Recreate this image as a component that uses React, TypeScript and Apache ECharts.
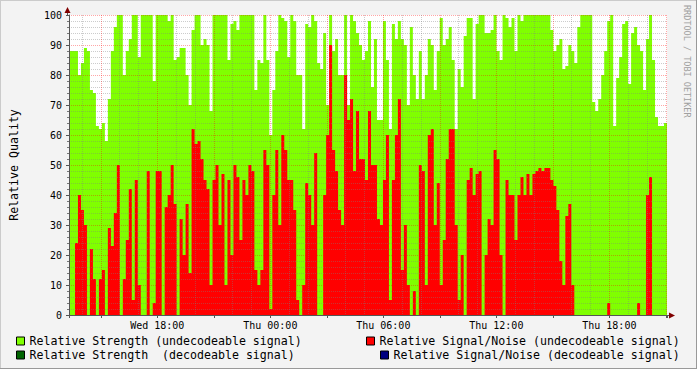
import React, { useEffect, useRef } from "react";
import * as echarts from "echarts";

// Hours since Wed 00:00
const START_H = 13.312;
const STEP_H = 31.75 / 200;

const strengthUndecodeable = [
  88, 88, 88, 80, 84, 89, 88, 75, 74, 63, 62, 64, 58, 72, 88, 96, 100, 100, 80, 88,
  92, 100, 100, 86, 100, 100, 100, 100, 78, 100, 100, 100, 100, 98, 100, 85, 86, 89, 89, 80,
  70, 95, 100, 100, 90, 92, 90, 68, 100, 100, 100, 100, 100, 85, 97, 98, 95, 100, 100, 100,
  100, 100, 75, 85, 84, 100, 85, 60, 75, 88, 100, 99, 98, 86, 100, 98, 80, 80, 62, 97,
  96, 100, 98, 84, 82, 94, 70, 100, 88, 92, 80, 80, 100, 70, 100, 98, 94, 90, 85, 88,
  98, 76, 92, 65, 65, 98, 85, 62, 97, 92, 98, 92, 90, 70, 96, 80, 72, 88, 72, 80,
  92, 90, 75, 88, 99, 90, 92, 96, 85, 62, 82, 76, 93, 99, 99, 72, 97, 100, 100, 94,
  94, 95, 100, 88, 85, 100, 99, 96, 99, 88, 100, 98, 100, 100, 100, 100, 100, 100, 100, 100,
  100, 95, 88, 90, 92, 82, 83, 90, 88, 84, 96, 100, 100, 100, 100, 71, 68, 72, 80, 88,
  98, 100, 63, 79, 86, 97, 98, 77, 94, 96, 90, 88, 75, 92, 100, 85, 66, 63, 63, 64,
];

const snrUndecodeable = [
  0, 0, 24, 40, 35, 30, 0, 22, 12, 0, 12, 15, 0, 29, 23, 34, 50, 0, 12, 25,
  42, 5, 45, 10, 0, 0, 48, 0, 4, 48, 48, 0, 36, 40, 50, 37, 0, 32, 20, 37,
  14, 62, 57, 58, 52, 45, 42, 10, 45, 50, 30, 47, 10, 45, 20, 50, 46, 25, 45, 40,
  50, 48, 15, 10, 15, 55, 50, 2, 40, 55, 30, 60, 55, 45, 45, 35, 5, 0, 10, 44,
  40, 30, 54, 0, 0, 40, 60, 90, 55, 48, 35, 30, 80, 65, 72, 48, 68, 52, 52, 45,
  68, 50, 50, 32, 30, 45, 60, 5, 45, 60, 72, 15, 30, 10, 0, 8, 0, 50, 48, 10,
  60, 62, 30, 44, 10, 25, 52, 62, 62, 30, 5, 20, 0, 45, 49, 40, 47, 48, 0, 20,
  32, 30, 55, 52, 20, 0, 45, 40, 40, 25, 40, 46, 40, 47, 40, 47, 48, 49, 48, 49,
  49, 45, 43, 35, 18, 10, 33, 37, 10, 0, 0, 0, 0, 0, 0, 0, 0, 0, 0, 0,
  4, 0, 0, 0, 0, 0, 0, 0, 0, 0, 4, 0, 0, 40, 46, 0, 0, 0, 0, 0,
];

const strengthDecodeable: number[] = [];
const snrDecodeable: number[] = [];

const NAMES = [
  "Relative Strength (undecodeable signal)",
  "Relative Signal/Noise (undecodeable signal)",
  "Relative Strength  (decodeable signal)",
  "Relative Signal/Noise (decodeable signal)",
];
const COLORS = ["#80ff00", "#ff0000", "#006400", "#000080"];
const DAYS = ["Wed", "Thu", "Fri"];
const MONO = "DejaVu Sans Mono";

function toPoints(vals: number[]) {
  if (!vals.length) return [];
  const pts: [number, number][] = vals.map((v, i) => [START_H + i * STEP_H, v]);
  pts.push([START_H + vals.length * STEP_H, vals[vals.length - 1]]);
  return pts;
}

function areaSeries(name: string, color: string, vals: number[], z: number) {
  return {
    type: "line",
    name,
    data: toPoints(vals),
    step: "end",
    symbol: "none",
    showSymbol: false,
    silent: true,
    z,
    color,
    itemStyle: { color },
    lineStyle: { width: 0, color },
    areaStyle: { color, opacity: 1 },
    emphasis: { disabled: true },
  };
}

export default function App() {
  const ref = useRef<HTMLDivElement>(null);
  useEffect(() => {
    if (!ref.current) return;
    const chart = echarts.init(ref.current, undefined, { renderer: "svg" });
    const legendBase = {
      orient: "horizontal",
      padding: 0,
      itemWidth: 8,
      itemHeight: 8,
      icon: "rect",
      selectedMode: false,
      itemStyle: { borderColor: "#000", borderWidth: 1 },
      textStyle: { fontFamily: MONO, fontSize: 11.6, color: "#000" },
    };
    const minorGrid = { color: "rgba(128,128,128,0.4)", width: 1, type: [1, 1] };
    const majorGrid = { color: "rgba(255,0,0,0.35)", width: 1, type: [1, 1] };
    chart.setOption({
      animation: false,
      backgroundColor: "#f3f3f3",
      grid: {
        left: 67,
        top: 15,
        width: 600,
        height: 300,
        show: true,
        backgroundColor: "#ffffff",
        borderWidth: 0,
      },
      legend: [
        { ...legendBase, data: [NAMES[0]], left: 16, top: 335 },
        { ...legendBase, data: [NAMES[1]], left: 366, top: 335 },
        { ...legendBase, data: [NAMES[2]], left: 16, top: 349 },
        { ...legendBase, data: [NAMES[3]], left: 380, top: 349 },
      ],
      xAxis: {
        type: "value",
        min: START_H,
        max: START_H + 200 * STEP_H,
        minInterval: 3,
        maxInterval: 3,
        splitNumber: 10,
        z: 10,
        axisLine: { show: true, lineStyle: { color: "#555", width: 1 } },
        axisTick: { show: true, length: 3, lineStyle: { color: "#555" } },
        minorTick: { show: false, splitNumber: 3 },
        axisLabel: {
          margin: 5,
          fontFamily: MONO,
          fontSize: 10,
          color: "#000",
          formatter: (v: number) => {
            const h = Math.round(v);
            if (Math.abs(v - h) > 1e-6 || h % 6 !== 0) return "";
            const hh = String(h % 24).padStart(2, "0");
            return `${DAYS[Math.floor(h / 24)]} ${hh}:00`;
          },
        },
        splitLine: { show: true, showMinLine: false, showMaxLine: false, lineStyle: majorGrid },
        minorSplitLine: { show: true, lineStyle: minorGrid },
      },
      yAxis: {
        type: "value",
        min: 0,
        max: 100,
        interval: 10,
        z: 10,
        name: "Relative Quality",
        nameLocation: "middle",
        nameGap: 49,
        nameTextStyle: { fontFamily: MONO, fontSize: 11.6, color: "#000" },
        axisLine: { show: true, lineStyle: { color: "#555", width: 1 } },
        axisTick: { show: true, length: 3, lineStyle: { color: "#555" } },
        minorTick: { show: true, splitNumber: 5, length: 2, lineStyle: { color: "#777" } },
        axisLabel: { margin: 7, fontFamily: MONO, fontSize: 10, color: "#000" },
        splitLine: { show: true, showMinLine: false, lineStyle: majorGrid },
        minorSplitLine: { show: true, lineStyle: minorGrid },
      },
      series: [
        areaSeries(NAMES[0], COLORS[0], strengthUndecodeable, 2),
        areaSeries(NAMES[2], COLORS[2], strengthDecodeable, 3),
        areaSeries(NAMES[1], COLORS[1], snrUndecodeable, 4),
        areaSeries(NAMES[3], COLORS[3], snrDecodeable, 5),
      ],
      graphic: [
        { type: "line", shape: { x1: 0, y1: 0.5, x2: 697, y2: 0.5 }, style: { stroke: "#cbcbcb", lineWidth: 1 }, silent: true },
        { type: "line", shape: { x1: 0.5, y1: 0, x2: 0.5, y2: 369 }, style: { stroke: "#cbcbcb", lineWidth: 1 }, silent: true },
        { type: "line", shape: { x1: 0, y1: 368.5, x2: 697, y2: 368.5 }, style: { stroke: "#999999", lineWidth: 1 }, silent: true },
        { type: "line", shape: { x1: 696.5, y1: 0, x2: 696.5, y2: 369 }, style: { stroke: "#999999", lineWidth: 1 }, silent: true },
        { type: "line", shape: { x1: 67.5, y1: 15, x2: 67.5, y2: 10 }, style: { stroke: "#555", lineWidth: 1 }, silent: true, z: 20 },
        { type: "line", shape: { x1: 667, y1: 315.5, x2: 670, y2: 315.5 }, style: { stroke: "#555", lineWidth: 1 }, silent: true, z: 20 },
        { type: "polygon", shape: { points: [[64.5, 13], [70.5, 13], [67.5, 7]] }, style: { fill: "#800000" }, silent: true, z: 20 },
        { type: "polygon", shape: { points: [[669, 312.5], [669, 318.5], [675, 315.5]] }, style: { fill: "#800000" }, silent: true, z: 20 },
        {
          type: "text",
          x: 687,
          y: 5,
          rotation: -Math.PI / 2,
          silent: true,
          style: {
            text: "RRDTOOL / TOBI OETIKER",
            fontFamily: MONO,
            fontSize: 8.5,
            fill: "#a0a0a0",
            textAlign: "left",
            textVerticalAlign: "middle",
          },
        },
      ],
    });
    return () => chart.dispose();
  }, []);
  return (
    <div
      ref={ref}
      style={{ position: "fixed", left: 0, top: 0, width: 697, height: 369 }}
    />
  );
}
